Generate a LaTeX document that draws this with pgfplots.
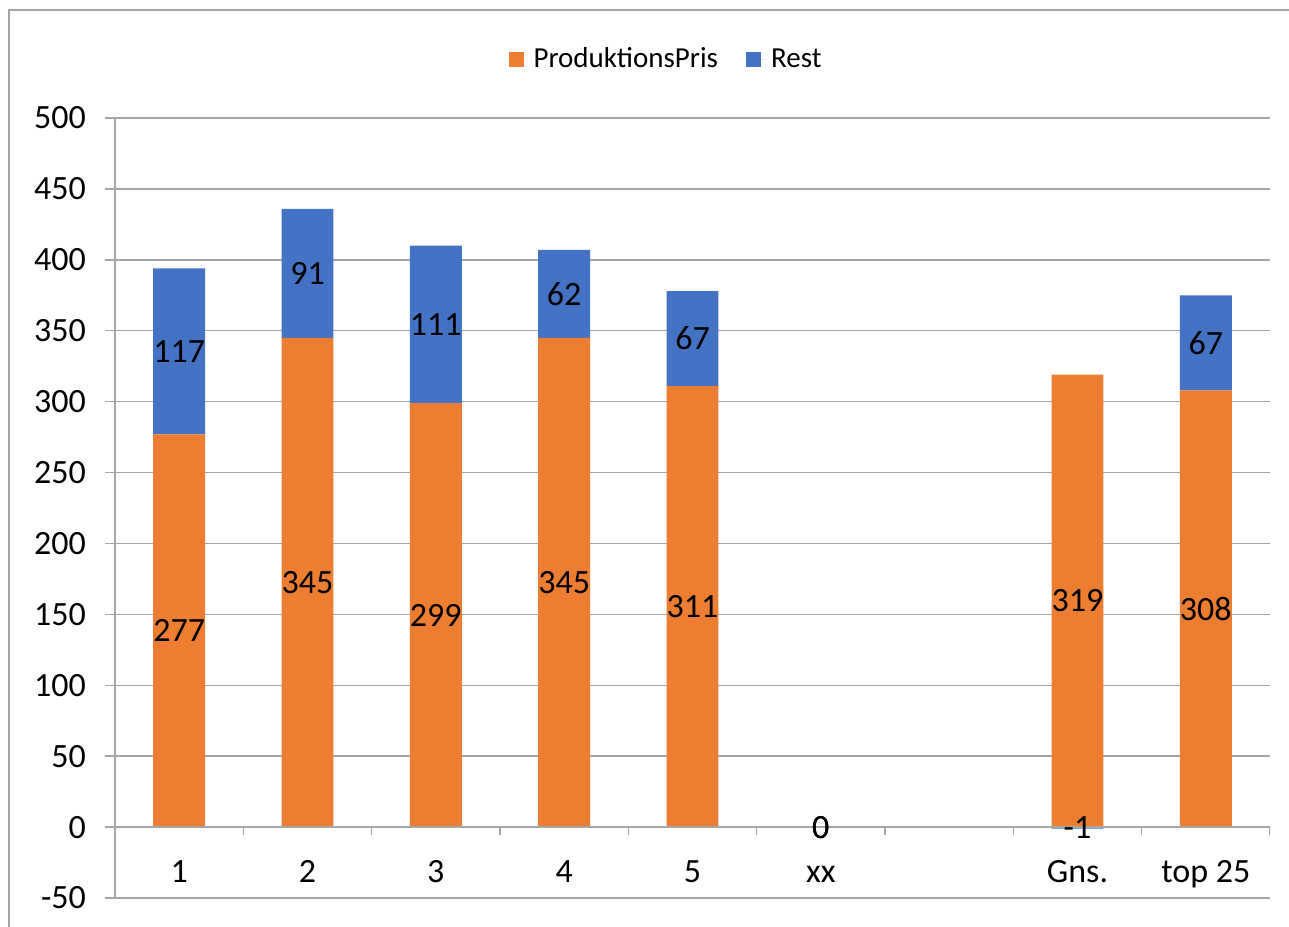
\documentclass[border=0pt]{standalone}
\usepackage{pgfplots}
\pgfplotsset{compat=1.18}
\usepackage{fontspec}
\setmainfont{Carlito}

\definecolor{prodorange}{HTML}{ED7D31}
\definecolor{restblue}{HTML}{4472C4}
\definecolor{gridgray}{RGB}{166,166,166}

\begin{document}
\begin{tikzpicture}
\useasboundingbox (-57.5pt,-14pt) rectangle (587pt,449pt);
% chart area frame (only top and left edge are inside the crop)
\draw[gridgray, line width=0.75pt] (-53pt,-20pt) -- (-53pt,444pt) -- (600pt,444pt);

\begin{axis}[
    at={(0,0)}, anchor=south west,
    scale only axis,
    width=577.5pt, height=390pt,
    ybar stacked,
    stack negative=separate,
    stacked ignores zero=false,
    bar width=0.405,
    xmin=-0.5, xmax=8.5,
    ymin=-50, ymax=500,
    enlargelimits=false,
    axis y line*=left,
    axis x line*=bottom,
    axis line style={gridgray, line width=0.75pt},
    ytick={-50,0,...,500},
    ymajorgrids,
    grid style={gridgray, line width=0.75pt},
    tick align=outside,
    major tick length=5pt,
    ytick style={gridgray, line width=0.75pt},
    xtick style={draw=none},
    xtick={0,...,8},
    xticklabels={1,2,3,4,5,xx,,Gns.,top 25},
    xticklabel style={anchor=base, yshift=13pt},
    yticklabel style={xshift=-6pt},
    ticklabel style={font=\fontsize{17}{20}\selectfont, text=black},
    /pgf/number format/assume math mode=true,
    legend style={at={(0.4779,1.0754)}, anchor=center, draw=none,
        font=\fontsize{14.5}{17}\selectfont, legend columns=2,
        /tikz/every even column/.append style={column sep=12pt}},
    legend image code/.code={\fill[#1] (0pt,-3.75pt) rectangle (7.5pt,3.75pt);
        \path (0pt,0pt) -- (10.5pt,0pt);},
    visualization depends on={value \thisrow{y} \as \rawy},
    nodes near coords={\rawy},
    every node near coord/.append style={anchor=center, text=black,
        font=\fontsize{17}{20}\selectfont},
]

% zero line with category boundary ticks
\draw[gridgray, line width=0.75pt] (axis cs:-0.5,0) -- (axis cs:8.5,0);
\pgfplotsinvokeforeach{0.5,1.5,2.5,3.5,4.5,5.5,6.5,7.5,8.5}{
    \draw[gridgray, line width=0.75pt] (axis cs:#1,0) -- ++(0pt,-4pt);
}

\addplot[fill=prodorange, draw=none] table {
x y
0 277
1 345
2 299
3 345
4 311
5 0
7 319
8 308
};
\addlegendentry{ProduktionsPris}

\addplot[fill=restblue, draw=none] table {
x y
0 117
1 91
2 111
3 62
4 67
5 0
7 -1
8 67
};
\addlegendentry{Rest}

\end{axis}
\end{tikzpicture}
\end{document}
